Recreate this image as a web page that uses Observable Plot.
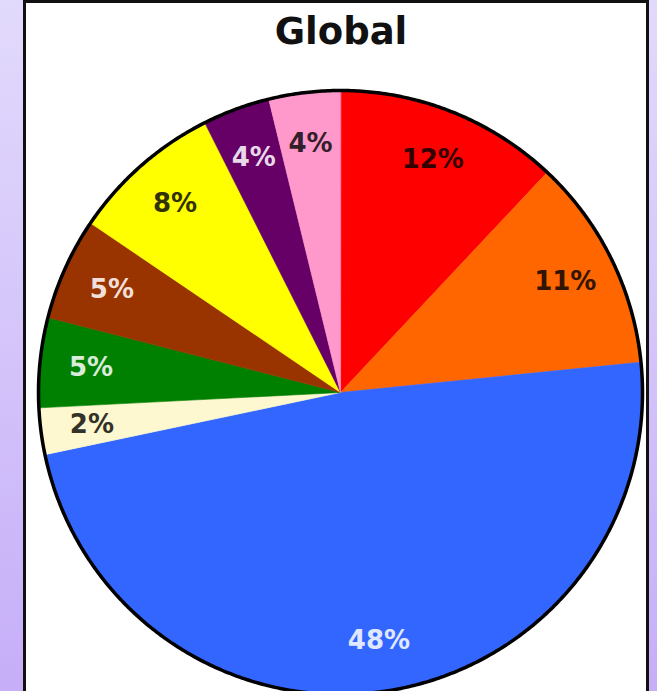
<!DOCTYPE html>
<html><head><meta charset="utf-8">
<script src="https://cdn.jsdelivr.net/npm/d3@7"></script>
<script src="https://cdn.jsdelivr.net/npm/@observablehq/plot@0.6"></script>
<style>
html,body{margin:0;padding:0;}
body{width:657px;height:691px;overflow:hidden;position:relative;background:linear-gradient(to bottom,#e2dafc,#c6aef8);font-family:"DejaVu Sans",Verdana,sans-serif;}
#panel{position:absolute;left:23px;top:0px;width:620px;height:760px;background:#fff;border:3px solid #111;}
#title{position:absolute;left:0;top:10px;width:682px;text-align:center;font-weight:bold;font-size:37px;color:#111;line-height:normal;}
#chart{position:absolute;left:0;top:0;}
</style></head><body>
<div id="panel"></div>
<div id="title">Global</div>
<div id="chart"></div>
<script>
const categories = ["Red","Orange","Blue","Cream","Green","Brown","Yellow","Purple","Pink"];
const shares = [12.0, 11.4, 48.3, 2.49, 4.8, 5.49, 8.1, 3.6, 3.82];
const sliceColors = ["#ff0000","#ff6600","#3366ff","#fdf8cf","#008000","#993300","#ffff00","#660066","#ff99cc"];

const rows = categories.map((name, i) => ({name, share: shares[i], color: sliceColors[i]}));
const arcs = d3.pie().sort(null).value(d => d.share)(rows);

const slicePts = [];
for (const a of arcs) {
  slicePts.push({name: a.data.name, x: 0, y: 0});
  const steps = Math.max(2, Math.ceil((a.endAngle - a.startAngle) / 0.004));
  for (let i = 0; i <= steps; i++) {
    const t = a.startAngle + (a.endAngle - a.startAngle) * i / steps;
    slicePts.push({name: a.data.name, x: Math.sin(t), y: Math.cos(t)});
  }
}
const ring = d3.range(0, 721).map(i => ({x: Math.sin(i / 720 * 2 * Math.PI), y: Math.cos(i / 720 * 2 * Math.PI)}));

const labelR = 0.83;
const labels = arcs.map(a => {
  const m = (a.startAngle + a.endAngle) / 2;
  const dark = d3.lab(a.data.color).l > 50;
  return {
    x: labelR * Math.sin(m), y: labelR * Math.cos(m),
    text: `${Math.round(a.data.share)}%`,
    fill: dark ? d3.interpolateRgb(a.data.color, "#000")(0.8) : d3.interpolateRgb(a.data.color, "#fff")(0.85)
  };
});

const chart = Plot.plot({
  width: 657, height: 691, margin: 0,
  x: {domain: [-1, 1], range: [38, 642], axis: null},
  y: {domain: [-1, 1], range: [694, 90], axis: null},
  color: {domain: categories, range: sliceColors},
  style: {background: "transparent", overflow: "visible"},
  marks: [
    Plot.line(slicePts, {x: "x", y: "y", z: "name", fill: "name", stroke: "name", strokeWidth: 0.6, curve: "linear-closed"}),
    Plot.line(ring, {x: "x", y: "y", stroke: "#000", strokeWidth: 3.5, curve: "linear-closed"}),
    ...labels.map(l => Plot.text([l], {x: "x", y: "y", text: "text", fill: l.fill, fontSize: 26, fontWeight: "bold", fontFamily: "DejaVu Sans, Verdana, sans-serif", textAnchor: "middle", lineAnchor: "middle"}))
  ]
});
document.getElementById("chart").appendChild(chart);
</script>
</body></html>
